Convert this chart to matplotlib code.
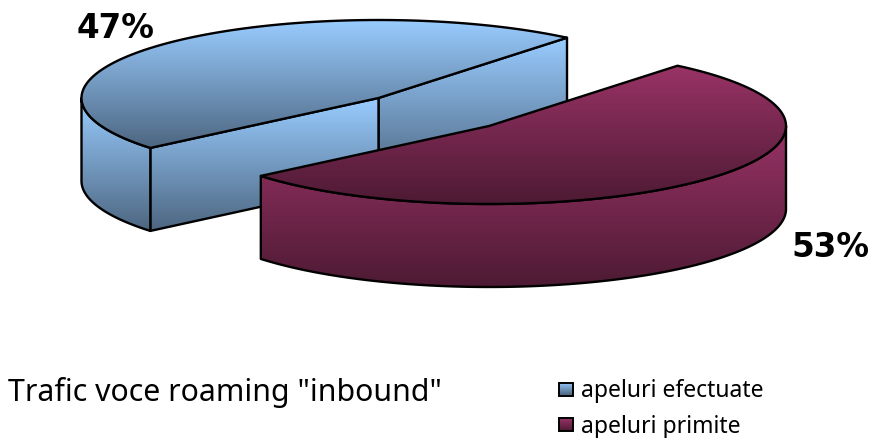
import numpy as np
import matplotlib
matplotlib.use("Agg")
import matplotlib.pyplot as plt
from matplotlib.colors import LinearSegmentedColormap
from matplotlib.patches import Polygon, Rectangle

# data
labels = ["apeluri efectuate", "apeluri primite"]
values = [47, 53]
pct_labels = ["47%", "53%"]
title = 'Trafic voce roaming "inbound"'

# pie geometry, in pixels of the picture
W, H = 873, 439
a, b = 297, 78
depth = 83
start = 50.6
c_blue = (378.5, 99)
c_red = (489, 127)

cm_blue = LinearSegmentedColormap.from_list("b", ["#99CCFF", "#4D6680"])
cm_red = LinearSegmentedColormap.from_list("r", ["#993366", "#4D1A33"])

fig = plt.figure(figsize=(W / 100, H / 100), dpi=100)
ax = fig.add_axes([0, 0, 1, 1])
ax.set_xlim(0, W)
ax.set_ylim(H, 0)
ax.axis("off")

z = [1]  # draw order, each face goes over the previous one


def arc(c, t0, t1, n=200):
    t = np.radians(np.linspace(t0, t1, n))
    return np.column_stack([c[0] + a * np.cos(t), c[1] - b * np.sin(t)])


def face(pts, cmap, y0=None, y1=None, lw=1.7):
    # gradient filled polygon with black outline
    pts = np.asarray(pts)
    x0, x1 = pts[:, 0].min(), pts[:, 0].max()
    y0 = pts[:, 1].min() if y0 is None else y0
    y1 = pts[:, 1].max() if y1 is None else y1
    z[0] += 1
    poly = Polygon(pts, closed=True, fc="none", ec="black", lw=lw, joinstyle="round", zorder=z[0] + 0.5)
    ax.add_patch(poly)
    im = ax.imshow(np.linspace(0, 1, 256).reshape(-1, 1), cmap=cmap, aspect="auto",
                   extent=[x0, x1, y1, y0], zorder=z[0])
    im.set_clip_path(poly)


def wall(c, t0, t1, cmap):
    top = arc(c, t0, t1)
    bottom = top[::-1] + [0, depth]
    face(np.vstack([top, bottom]), cmap)


span_blue = 360 * values[0] / sum(values)
span_red = 360 * values[1] / sum(values)
blue_end = start + span_blue
red_end = start - span_red

# blue slice: cut faces, outer wall, top
p_start = arc(c_blue, start, start, 1)[0]
p_end = arc(c_blue, blue_end, blue_end, 1)[0]
apex = np.array(c_blue, dtype=float)
down = np.array([0, depth])
face([apex, p_start, p_start + down, apex + down], cm_blue)
face([p_end, apex, apex + down, p_end + down], cm_blue, y0=c_blue[1], y1=p_end[1] + depth)
wall(c_blue, 180, blue_end, cm_blue)
face(np.vstack([[c_blue], arc(c_blue, start, blue_end)]), cm_blue)

# red slice: outer wall, then top
wall(c_red, red_end, 0, cm_red)
face(np.vstack([[c_red], arc(c_red, red_end, start)]), cm_red)

# percent labels
ax.text(115.5, 29, pct_labels[0], fontsize=23.5, fontweight="bold", ha="center", va="center", zorder=50)
ax.text(830, 247.5, pct_labels[1], fontsize=23.5, fontweight="bold", ha="center", va="center", zorder=50)

# title and legend
ax.text(8, 393, title, fontsize=21.8, family="Noto Sans", ha="left", va="center", zorder=50)
ys = [390, 425.5]
for lab, y, cmap in zip(labels, ys, [cm_blue, cm_red]):
    z[0] += 1
    r = Rectangle((559, y - 6.5), 14, 13, fc="none", ec="black", lw=1.4, zorder=z[0] + 0.5)
    ax.add_patch(r)
    im = ax.imshow(np.linspace(0, 1, 64).reshape(-1, 1), cmap=cmap, aspect="auto",
                   extent=[559, 573, y + 6.5, y - 6.5], zorder=z[0])
    im.set_clip_path(r)
    ax.text(581, y + 1.5, lab, fontsize=16.5, family="Noto Sans", ha="left", va="center", zorder=50)

ax.set_xlim(0, W)
ax.set_ylim(H, 0)
fig.savefig("out.png", dpi=100)
